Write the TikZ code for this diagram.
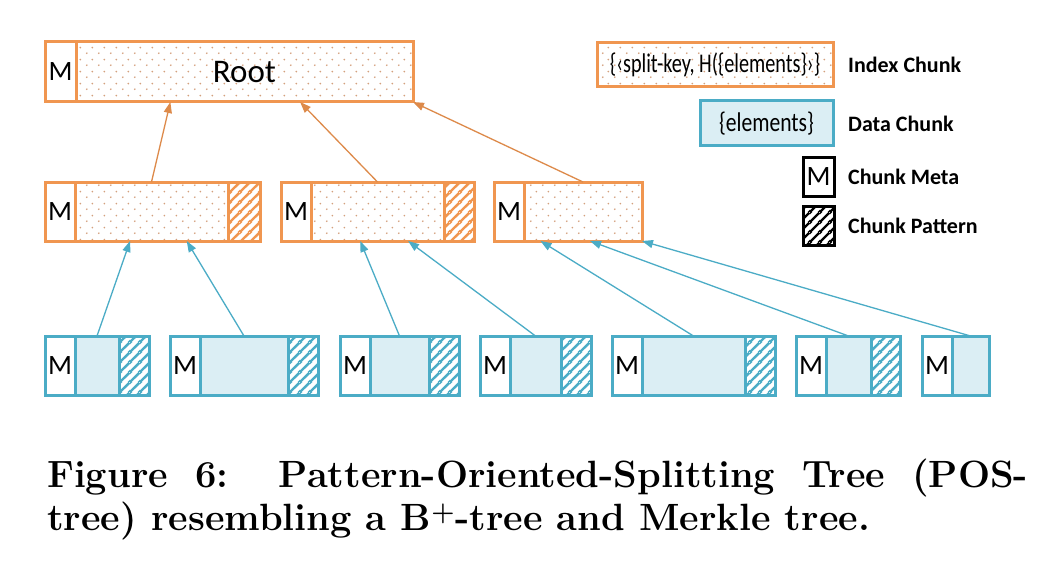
\documentclass[tikz,border=0pt]{standalone}
\usepackage{fontspec}
\newfontfamily\calibri{Carlito}
\usetikzlibrary{arrows.meta, positioning, calc, patterns.meta}

\definecolor{orng}{RGB}{240,150,80}
\definecolor{orngdot}{RGB}{212,160,125}
\definecolor{blu}{RGB}{75,172,198}
\definecolor{blufill}{RGB}{219,238,244}

\tikzdeclarepattern{
	name=chunkdots, type=uncolored,
	bounding box={(0pt,0pt) and (12pt,12pt)},
	tile size={(12pt,12pt)},
	code={
		\fill (3pt,3pt) circle (1pt);
		\fill (9pt,9pt) circle (1pt);
	}
}
\tikzdeclarepattern{
	name=chunkhatch, type=uncolored,
	bounding box={(0pt,0pt) and (10pt,10pt)},
	tile size={(10pt,10pt)},
	code={
		\draw[line width=2.6pt] (0pt,0pt) -- (10pt,10pt);
		\draw[line width=2.6pt] (-2pt,8pt) -- (2pt,12pt);
		\draw[line width=2.6pt] (8pt,-2pt) -- (12pt,2pt);
	}
}

\tikzset{
	cell/.style={draw, line width=3pt, inner sep=0pt, outer sep=0pt, minimum height=59pt},
	meta/.style={cell, draw=#1, fill=white, minimum width=30pt, anchor=west,
		font=\calibri\fontsize{28}{28}\selectfont},
	ibody/.style={cell, draw=orng, pattern=chunkdots, pattern color=orngdot},
	ihatch/.style={cell, draw=orng, pattern=chunkhatch, pattern color=orng},
	dbody/.style={cell, draw=blu, fill=blufill},
	dhatch/.style={cell, draw=blu, pattern=chunkhatch, pattern color=blu},
	oarrow/.style={draw=orng!92!black, line width=1.3pt, -{Triangle[length=11pt,width=8pt]}},
	barrow/.style={draw=blu, line width=1.3pt, -{Triangle[length=11pt,width=8pt]}},
	lgtext/.style={font=\calibri\bfseries\fontsize{22}{22}\selectfont, anchor=west, inner sep=0pt},
	caption/.style={font=\bfseries\fontsize{38}{44}\selectfont, inner sep=0pt, anchor=base west}
}

\begin{document}
\begin{tikzpicture}[x=1pt, y=-1pt]
	% поле
	\fill[white] (0,0) rectangle (1040,572);
	\useasboundingbox (0,0) rectangle (1040,572);

	% корень
	\node[meta=orng, minimum width=31pt, minimum height=60pt] (r-m) at (45,72) {M};
	\node[ibody, minimum width=337pt, minimum height=60pt, right=0pt of r-m,
		font=\calibri\fontsize{33}{33}\selectfont] (r-b) {Root};

	% индексные блоки
	\foreach \n/\x/\w/\p in {1/45/153/32, 2/281/133/30, 3/494/118/0} {
		\node[meta=orng] (i\n-m) at (\x,211.5) {M};
		\node[ibody, minimum width=\w pt, right=0pt of i\n-m] (i\n-b) {};
		\ifnum\p>0
			\node[ihatch, minimum width=\p pt, right=0pt of i\n-b] (i\n-p) {};
		\fi
	}

	% блоки данных
	\foreach \n/\x/\w/\p in {1/45/44/30, 2/170/88/30, 3/340/59/30, 4/480/51/30,
			5/612/103/30, 6/796/45/29, 7/922/37/0} {
		\node[meta=blu] (d\n-m) at (\x,365.5) {M};
		\node[dbody, minimum width=\w pt, right=0pt of d\n-m] (d\n-b) {};
		\ifnum\p>0
			\node[dhatch, minimum width=\p pt, right=0pt of d\n-b] (d\n-p) {};
		\fi
	}

	% стрелки к корню
	\draw[oarrow] (i1-b.north) -- ($(r-b.south west)!.28!(r-b.south east)$);
	\draw[oarrow] (i2-b.north) -- ($(r-b.south west)!.665!(r-b.south east)$);
	\draw[oarrow] (i3-b.north) -- (r-b.south east);

	% стрелки к индексным блокам
	\draw[barrow] (d1-b.north) -- ($(i1-b.south west)!.36!(i1-b.south east)$);
	\draw[barrow] (d2-b.north) -- ($(i1-b.south west)!.73!(i1-b.south east)$);
	\draw[barrow] (d3-b.north) -- ($(i2-b.south west)!.37!(i2-b.south east)$);
	\draw[barrow] (d4-b.north) -- ($(i2-b.south west)!.73!(i2-b.south east)$);
	\draw[barrow] (d5-b.north) -- ($(i3-b.south west)!.14!(i3-b.south east)$);
	\draw[barrow] (d6-b.north) -- ($(i3-b.south west)!.56!(i3-b.south east)$);
	\draw[barrow] (d7-b.north) -- (i3-b.south east);

	% легенда
	\node[ibody, minimum width=236pt, minimum height=44pt,
		font=\calibri\fontsize{27}{27}\selectfont] (lg-i) at (715,65)
		{\scalebox{.75}[1]{\{‹split-key, H(\{elements\}›\}}};
	\node[dbody, minimum width=133pt, minimum height=45pt,
		font=\calibri\fontsize{27}{27}\selectfont] (lg-d) at (766.5,123.5)
		{\scalebox{.8}[1]{\{elements\}}};
	\node[meta=black, anchor=center, minimum width=31pt, minimum height=38pt] (lg-m) at (818.5,177) {M};
	\node[cell, draw=black, pattern=chunkhatch, pattern color=black,
		minimum width=31pt, minimum height=39pt] (lg-p) at (818.5,225.5) {};

	\node[lgtext, right=15pt of lg-i] (lt-i) {Index Chunk};
	\node[lgtext, right=15pt of lg-d] (lt-d) {Data Chunk};
	\node[lgtext, right=14pt of lg-m] (lt-m) {Chunk Meta};
	\node[lgtext, right=14pt of lg-p] (lt-p) {Chunk Pattern};

	% подпись
	\node[caption] (cap1) at (47,487)
		{\makebox[981pt][s]{Figure 6:\hspace{.15em} Pattern-Oriented-Splitting Tree (POS-}};
	\node[caption] (cap2) at (47,530)
		{tree) resembling a B\textsuperscript{+}-tree and Merkle tree.};
\end{tikzpicture}
\end{document}
